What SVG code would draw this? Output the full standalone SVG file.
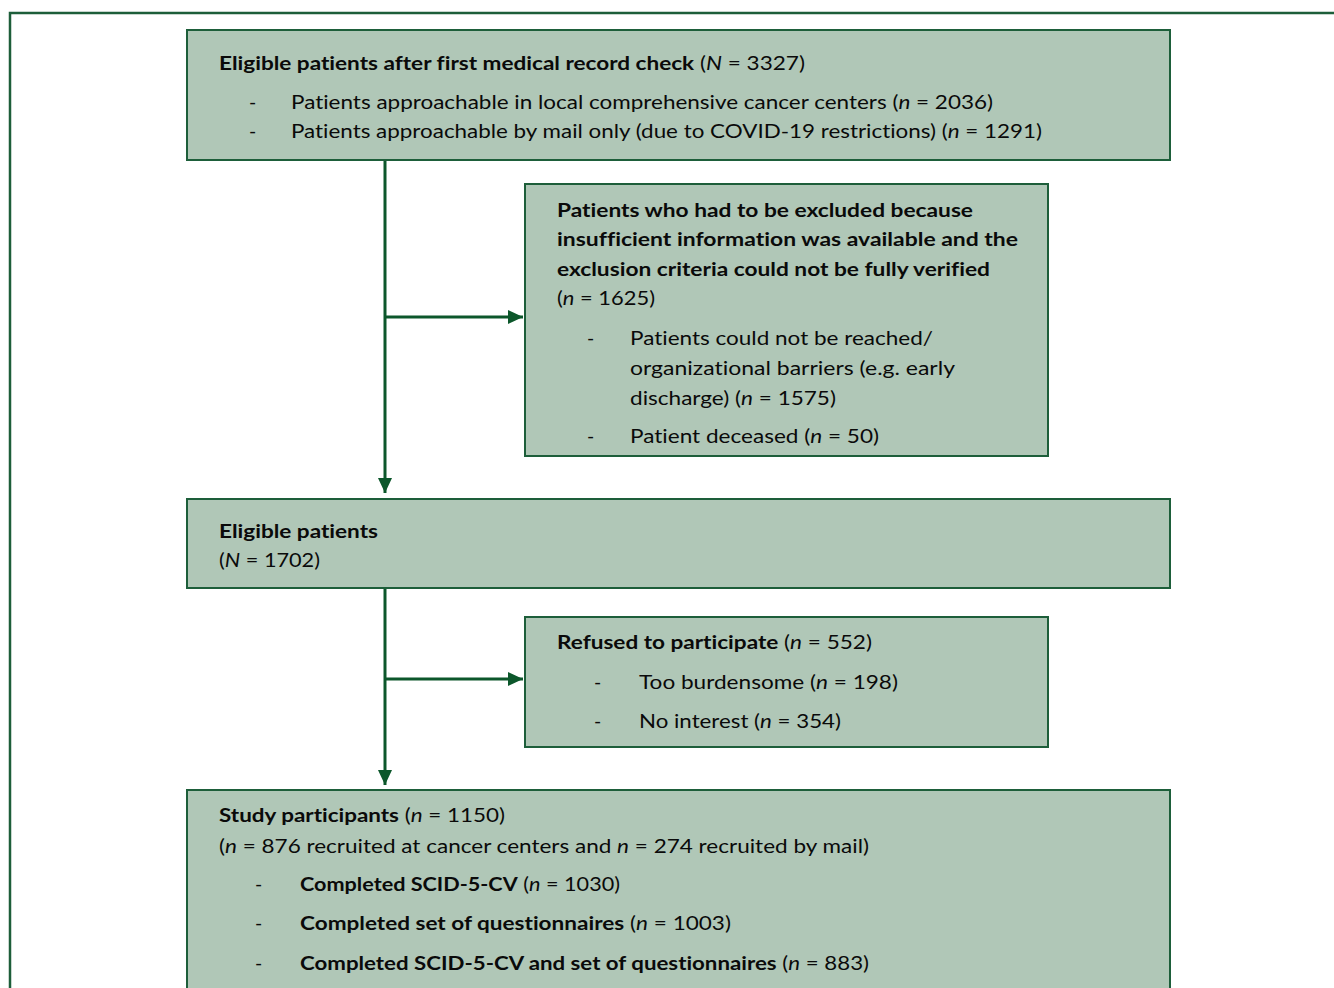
<svg xmlns="http://www.w3.org/2000/svg" width="1334" height="988" viewBox="0 0 1334 988">
<style>
.box{fill:#b0c7b7;stroke:#1d5e3a;stroke-width:2}
.frame{fill:none;stroke:#1d5e3a;stroke-width:2.5}
.con{fill:none;stroke:#0c572b;stroke-width:3}
text{font-family:Lato,"Open Sans","Liberation Sans",sans-serif;font-size:19.5px;fill:#0a0a0a;font-variant-ligatures:none;font-feature-settings:"liga" 0,"dlig" 0}
.b{font-weight:bold}
.i{font-style:italic}
</style>
<defs>
<marker id="ah" markerUnits="userSpaceOnUse" markerWidth="16" markerHeight="14" refX="15" refY="7" orient="auto">
<path d="M0,0 L15,7 L0,14 Z" fill="#0c572b"/>
</marker>
</defs>
<rect width="1334" height="988" fill="#fff"/>
<path class="frame" d="M10,990 V13 H1336"/>
<g id="connectors">
<path class="con" d="M385,161 V493" marker-end="url(#ah)"/>
<path class="con" d="M385,317 H523" marker-end="url(#ah)"/>
<path class="con" d="M385,589 V785" marker-end="url(#ah)"/>
<path class="con" d="M385,679 H523" marker-end="url(#ah)"/>
</g>
<g id="n1">
<rect class="box" x="187" y="30" width="983" height="130"/>
<text x="219" y="70" textLength="586" lengthAdjust="spacingAndGlyphs"><tspan class="b">Eligible patients after first medical record check</tspan> (<tspan class="i">N</tspan> = 3327)</text>
<text x="249" y="109">-</text>
<text x="291" y="109" textLength="702" lengthAdjust="spacingAndGlyphs">Patients approachable in local comprehensive cancer centers (<tspan class="i">n</tspan> = 2036)</text>
<text x="249" y="138">-</text>
<text x="291" y="138" textLength="751" lengthAdjust="spacingAndGlyphs">Patients approachable by mail only (due to COVID-19 restrictions) (<tspan class="i">n</tspan> = 1291)</text>
</g>
<g id="n2">
<rect class="box" x="525" y="184" width="523" height="272"/>
<text class="b" x="557" y="217" textLength="416" lengthAdjust="spacingAndGlyphs">Patients who had to be excluded because</text>
<text class="b" x="557" y="246" textLength="461" lengthAdjust="spacingAndGlyphs">insufficient information was available and the</text>
<text class="b" x="557" y="276" textLength="433" lengthAdjust="spacingAndGlyphs">exclusion criteria could not be fully verified</text>
<text x="557" y="305" textLength="98" lengthAdjust="spacingAndGlyphs">(<tspan class="i">n</tspan> = 1625)</text>
<text x="587" y="345">-</text>
<text x="630" y="345" textLength="303" lengthAdjust="spacingAndGlyphs">Patients could not be reached/</text>
<text x="630" y="375" textLength="325" lengthAdjust="spacingAndGlyphs">organizational barriers (e.g. early</text>
<text x="630" y="405" textLength="206" lengthAdjust="spacingAndGlyphs">discharge) (<tspan class="i">n</tspan> = 1575)</text>
<text x="587" y="443">-</text>
<text x="630" y="443" textLength="249" lengthAdjust="spacingAndGlyphs">Patient deceased (<tspan class="i">n</tspan> = 50)</text>
</g>
<g id="n3">
<rect class="box" x="187" y="499" width="983" height="89"/>
<text class="b" x="219" y="538" textLength="159" lengthAdjust="spacingAndGlyphs">Eligible patients</text>
<text x="219" y="567" textLength="101" lengthAdjust="spacingAndGlyphs">(<tspan class="i">N</tspan> = 1702)</text>
</g>
<g id="n4">
<rect class="box" x="525" y="617" width="523" height="130"/>
<text x="557" y="649" textLength="315" lengthAdjust="spacingAndGlyphs"><tspan class="b">Refused to participate</tspan> (<tspan class="i">n</tspan> = 552)</text>
<text x="594" y="689">-</text>
<text x="639" y="689" textLength="259" lengthAdjust="spacingAndGlyphs">Too burdensome (<tspan class="i">n</tspan> = 198)</text>
<text x="594" y="728">-</text>
<text x="639" y="728" textLength="202" lengthAdjust="spacingAndGlyphs">No interest (<tspan class="i">n</tspan> = 354)</text>
</g>
<g id="n5">
<rect class="box" x="187" y="790" width="983" height="210"/>
<text x="219" y="822" textLength="286" lengthAdjust="spacingAndGlyphs"><tspan class="b">Study participants</tspan> (<tspan class="i">n</tspan> = 1150)</text>
<text x="219" y="853" textLength="650" lengthAdjust="spacingAndGlyphs">(<tspan class="i">n</tspan> = 876 recruited at cancer centers and <tspan class="i">n</tspan> = 274 recruited by mail)</text>
<text x="255" y="891">-</text>
<text x="300" y="891" textLength="320" lengthAdjust="spacingAndGlyphs"><tspan class="b">Completed SCID-5-CV</tspan> (<tspan class="i">n</tspan> = 1030)</text>
<text x="255" y="930">-</text>
<text x="300" y="930" textLength="431" lengthAdjust="spacingAndGlyphs"><tspan class="b">Completed set of questionnaires</tspan> (<tspan class="i">n</tspan> = 1003)</text>
<text x="255" y="970">-</text>
<text x="300" y="970" textLength="569" lengthAdjust="spacingAndGlyphs"><tspan class="b">Completed SCID-5-CV and set of questionnaires</tspan> (<tspan class="i">n</tspan> = 883)</text>
</g>
</svg>
